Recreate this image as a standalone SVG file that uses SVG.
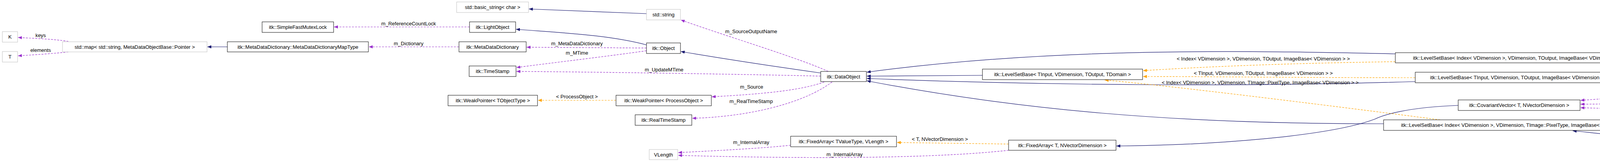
<svg xmlns="http://www.w3.org/2000/svg" width="7501" height="415" viewBox="0 0 7501 415">
<style>
text{font-family:"Liberation Sans",Arial,sans-serif;font-size:13px;text-anchor:middle;fill:#000}
.n rect{fill:#fff;stroke:#000;stroke-width:1}
.g rect{fill:#fff;stroke:#bfbfbf;stroke-width:1}
.cur rect{fill:#bfbfbf;stroke:#000}
.e path{fill:none;stroke-width:1.2}
.b{stroke:#191970}
.p{stroke:#9a32cd;stroke-dasharray:5,3}
.o{stroke:#ffa500;stroke-dasharray:5,3}
.b{marker-end:url(#mb)}.p{marker-end:url(#mp)}.o{marker-end:url(#mo)}
</style>
<defs>
<marker id="mb" markerUnits="userSpaceOnUse" markerWidth="11" markerHeight="8" refX="10" refY="4" orient="auto"><path d="M0,0L10,4L0,8z" fill="#191970"/></marker>
<marker id="mp" markerUnits="userSpaceOnUse" markerWidth="11" markerHeight="8" refX="10" refY="4" orient="auto"><path d="M0,0L10,4L0,8z" fill="#9a32cd"/></marker>
<marker id="mo" markerUnits="userSpaceOnUse" markerWidth="11" markerHeight="8" refX="10" refY="4" orient="auto"><path d="M0,0L10,4L0,8z" fill="#ffa500"/></marker>
</defs>
<rect width="7501" height="415" fill="#fff"/>
<g id="edges" class="e">
<path class="p" d="M175,106 C140,100 80,98 46,96"/>
<path class="p" d="M175,133 C140,137 80,141 46,143"/>
<path class="b" d="M582,120 L531,120"/>
<path class="p" d="M1202,69 L855,69"/>
<path class="p" d="M1175,120 L944,120"/>
<path class="b" d="M1655,35 L1354,23"/>
<path class="b" d="M1655,115 C1560,90 1450,85 1321,75"/>
<path class="p" d="M1655,123 L1348,121"/>
<path class="p" d="M1655,130 C1550,145 1420,160 1322,173"/>
<path class="p" d="M2101,195 C1900,190 1500,184 1322,183"/>
<path class="b" d="M2101,187 C1980,170 1850,150 1743,132"/>
<path class="p" d="M2120,183 C2050,150 1850,90 1743,51"/>
<path class="p" d="M2110,210 C2050,232 1950,241 1822,248"/>
<path class="p" d="M2130,210 C2050,270 1900,300 1772,303"/>
<path class="o" d="M1577,257 L1377,257"/>
<path class="p" d="M2024,372 C1950,380 1850,385 1736,391"/>
<path class="p" d="M2582,385 C2400,405 2100,408 1736,398"/>
<path class="o" d="M2582,369 L2296,365"/>
<path class="b" d="M3733,270 C3600,275 3540,295 3520,305 C3400,350 3100,372 2858,374"/>
<path class="b" d="M3572,138 C3200,130 2700,120 2219,185"/>
<path class="b" d="M2515,193 L2219,195"/>
<path class="b" d="M3623,209 C3200,222 2700,220 2219,201"/>
<path class="b" d="M3542,317 C3000,318 2600,280 2219,207"/>
<path class="o" d="M3572,158 C3300,162 3100,170 2926,181"/>
<path class="o" d="M3623,199 C3300,199 3100,196 2926,196"/>
<path class="o" d="M3687,307 C3400,270 3000,220 2828,205"/>
<path class="b" d="M4443,207 L4156,202"/>
<path class="b" d="M5445,223 C5200,185 4700,160 4207,152"/>
<path class="b" d="M5365,349 C5000,365 4600,385 4300,360 C4150,350 4080,340 4026,335"/>
<path class="p" d="M4443,229 C4300,240 4150,250 4046,257"/>
<path class="p" d="M5290,244 C5000,255 4500,262 4046,267"/>
<path class="p" d="M5259,324 C4900,310 4400,285 4046,276"/>
<path class="o" d="M5290,231 C5100,228 4950,222 4830,220"/>
<path class="o" d="M5413,322 C5200,300 4900,250 4725,229"/>
<path class="b" d="M5859,247 L5778,245"/>
<path class="b" d="M6615,295 L5809,326"/>
<path class="o" d="M6615,274 L6251,261"/>
<path class="b" d="M7204,285 L7155,285"/>
<text x="104" y="95">keys</text>
<text x="104" y="133">elements</text>
<text x="1046" y="65">m_ReferenceCountLock</text>
<text x="1046" y="116">m_Dictionary</text>
<text x="1477" y="116">m_MetaDataDictionary</text>
<text x="1477" y="140">m_MTime</text>
<text x="1700" y="183">m_UpdateMTime</text>
<text x="1923" y="85">m_SourceOutputName</text>
<text x="1924" y="227">m_Source</text>
<text x="1923" y="264">m_RealTimeStamp</text>
<text x="1477" y="252">&lt; ProcessObject &gt;</text>
<text x="1923" y="369">m_InternalArray</text>
<text x="2162" y="400">m_InternalArray</text>
<text x="2406" y="361">&lt; T, NVectorDimension &gt;</text>
<text x="3234" y="155">&lt; Index&lt; VDimension &gt;, VDimension, TOutput, ImageBase&lt; VDimension &gt; &gt;</text>
<text x="3234" y="192">&lt; TInput, VDimension, TOutput, ImageBase&lt; VDimension &gt; &gt;</text>
<text x="3226" y="216">&lt; Index&lt; VDimension &gt;, VDimension, TImage::PixelType, ImageBase&lt; VDimension &gt; &gt;</text>
<text x="4341" y="227">m_NeighborhoodScales</text>
<text x="4636" y="252">m_NeighborhoodScales</text>
<text x="4636" y="288">m_NeighborhoodScales</text>
<text x="5045" y="216">&lt; Index&lt; VDimension &gt;, VDimension, TOutput &gt;</text>
<text x="5043" y="247">&lt; Index&lt; VDimension &gt;, VDimension, TImage::PixelType &gt;</text>
<text x="6434" y="257">&lt; TImage::PixelType, TImage::ImageDimension &gt;</text>
</g>
<g id="K" class="g"><rect x="6" y="81" width="39" height="27"/><text x="25.5" y="99">K</text></g>
<g id="T" class="g"><rect x="6" y="132" width="39" height="27"/><text x="25.5" y="150">T</text></g>
<g id="stdmap" class="g"><rect x="160" y="107" width="370" height="26"/><text x="345" y="125">std::map&lt; std::string, MetaDataObjectBase::Pointer &gt;</text></g>
<g id="MapType" class="n"><rect x="582" y="107" width="361" height="26"/><text x="762.5" y="125">itk::MetaDataDictionary::MetaDataDictionaryMapType</text></g>
<g id="Mutex" class="n"><rect x="671" y="56" width="183" height="27"/><text x="762.5" y="74">itk::SimpleFastMutexLock</text></g>
<g id="basic_string" class="g"><rect x="1169" y="5" width="184" height="27"/><text x="1261" y="23">std::basic_string&lt; char &gt;</text></g>
<g id="string" class="g"><rect x="1655" y="24" width="87" height="27"/><text x="1698.5" y="42">std::string</text></g>
<g id="LightObject" class="n"><rect x="1202" y="56" width="118" height="27"/><text x="1261" y="74">itk::LightObject</text></g>
<g id="MetaDataDictionary" class="n"><rect x="1175" y="107" width="172" height="26"/><text x="1261" y="125">itk::MetaDataDictionary</text></g>
<g id="Object" class="n"><rect x="1655" y="110" width="87" height="27"/><text x="1698.5" y="128">itk::Object</text></g>
<g id="TimeStamp" class="n"><rect x="1201" y="169" width="120" height="27"/><text x="1261" y="187">itk::TimeStamp</text></g>
<g id="WeakPointerT" class="n"><rect x="1147" y="244" width="229" height="27"/><text x="1261.5" y="262">itk::WeakPointer&lt; TObjectType &gt;</text></g>
<g id="WeakPointerPO" class="n"><rect x="1577" y="244" width="244" height="27"/><text x="1699" y="262">itk::WeakPointer&lt; ProcessObject &gt;</text></g>
<g id="RealTimeStamp" class="n"><rect x="1626" y="294" width="145" height="27"/><text x="1698.5" y="312">itk::RealTimeStamp</text></g>
<g id="VLength" class="g"><rect x="1662" y="383" width="73" height="26"/><text x="1698.5" y="401">VLength</text></g>
<g id="DataObject" class="n"><rect x="2101" y="183" width="117" height="26"/><text x="2159.5" y="201">itk::DataObject</text></g>
<g id="LSB_TDomain" class="n"><rect x="2515" y="177" width="410" height="27"/><text x="2720" y="195">itk::LevelSetBase&lt; TInput, VDimension, TOutput, TDomain &gt;</text></g>
<g id="FA_VLength" class="n"><rect x="2024" y="349" width="271" height="27"/><text x="2159.5" y="367">itk::FixedArray&lt; TValueType, VLength &gt;</text></g>
<g id="FA_NVD" class="n"><rect x="2582" y="359" width="275" height="26"/><text x="2719.5" y="377">itk::FixedArray&lt; T, NVectorDimension &gt;</text></g>
<g id="LSB_IndexTOutput" class="n"><rect x="3572" y="135" width="634" height="26"/><text x="3889" y="153">itk::LevelSetBase&lt; Index&lt; VDimension &gt;, VDimension, TOutput, ImageBase&lt; VDimension &gt; &gt;</text></g>
<g id="LSB_TInput" class="n"><rect x="3623" y="185" width="532" height="27"/><text x="3889" y="203">itk::LevelSetBase&lt; TInput, VDimension, TOutput, ImageBase&lt; VDimension &gt; &gt;</text></g>
<g id="CovariantVector" class="n"><rect x="3733" y="256" width="312" height="27"/><text x="3889" y="274">itk::CovariantVector&lt; T, NVectorDimension &gt;</text></g>
<g id="LSB_IndexPixel" class="n"><rect x="3542" y="307" width="694" height="27"/><text x="3889" y="325">itk::LevelSetBase&lt; Index&lt; VDimension &gt;, VDimension, TImage::PixelType, ImageBase&lt; VDimension &gt; &gt;</text></g>
<g id="LSIB_TInput" class="n"><rect x="4443" y="201" width="386" height="27"/><text x="4636" y="219">itk::LevelSetImageBase&lt; TInput, VDimension, TOutput &gt;</text></g>
<g id="LSIB_IndexTOutput" class="n"><rect x="5290" y="224" width="487" height="26"/><text x="5533.5" y="242">itk::LevelSetImageBase&lt; Index&lt; VDimension &gt;, VDimension, TOutput &gt;</text></g>
<g id="LSIB_IndexPixel" class="n"><rect x="5259" y="323" width="549" height="26"/><text x="5533.5" y="341">itk::LevelSetImageBase&lt; Index&lt; VDimension &gt;, VDimension, TImage::PixelType &gt;</text></g>
<g id="DLSIB_TOutput" class="n"><rect x="5859" y="240" width="391" height="26"/><text x="6054.5" y="258">itk::DiscreteLevelSetImageBase&lt; TOutput, VDimension &gt;</text></g>
<g id="DLSIB_Pixel" class="n"><rect x="6615" y="272" width="539" height="26"/><text x="6884.5" y="290">itk::DiscreteLevelSetImageBase&lt; TImage::PixelType, TImage::ImageDimension &gt;</text></g>
<g id="Dense" class="n cur"><rect x="7204" y="272" width="291" height="26"/><text x="7349.5" y="290">itk::LevelSetDenseImageBase&lt; TImage &gt;</text></g>
</svg>
